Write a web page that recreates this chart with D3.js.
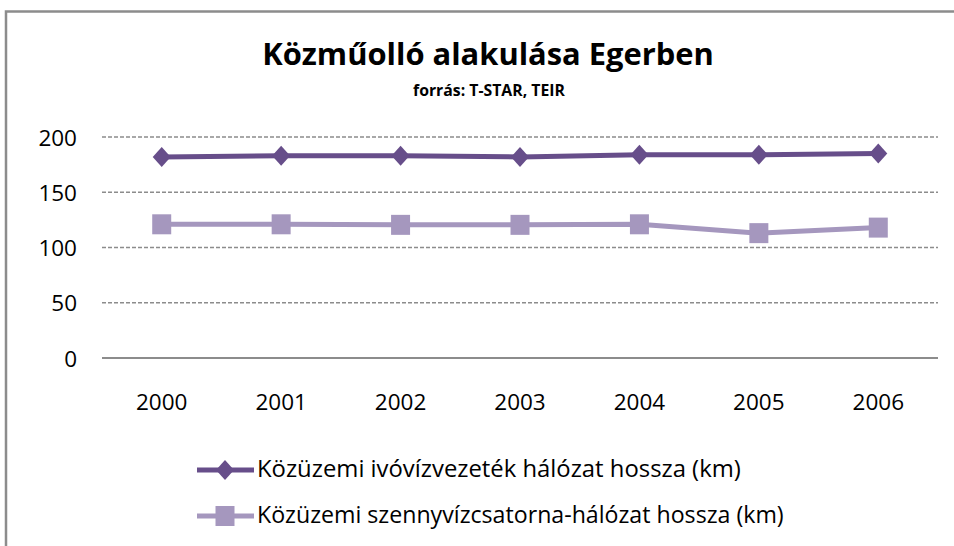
<!DOCTYPE html>
<html>
<head>
<meta charset="utf-8">
<script src="https://cdn.jsdelivr.net/npm/d3@7"></script>
<style>
  body { margin: 0; background: #fff; }
  svg text { font-family: "Open Sans", Lato, sans-serif; fill: #000; }
</style>
</head>
<body>
<svg id="chart" width="954" height="546"></svg>
<script>
// data
var years = ["2000", "2001", "2002", "2003", "2004", "2005", "2006"];
var ivoviz = [182, 183, 183, 182, 184, 184, 185];
var szenny = [121, 121, 120.5, 120.5, 121, 113, 118];
var seriesNames = ["Közüzemi ivóvízvezeték hálózat hossza (km)",
                   "Közüzemi szennyvízcsatorna-hálózat hossza (km)"];
var yTicks = [0, 50, 100, 150, 200];

var colors = ["#674e8a", "#a597be"];

var svg = d3.select("#chart");

// size a text so it spans roughly the width seen in the reference
function fit(sel, target) {
  sel.each(function() {
    var fs = parseFloat(d3.select(this).attr("font-size"));
    var w = this.getComputedTextLength();
    if (w > 0) d3.select(this).attr("font-size", (fs * target / w).toFixed(2));
  });
}

// outer frame (left + top visible)
svg.append("path")
  .attr("d", "M6,546 V11.5 H954")
  .attr("fill", "none")
  .attr("stroke", "#8c8c8c")
  .attr("stroke-width", 2.5);

// title
svg.append("text")
  .attr("x", 488).attr("y", 65)
  .attr("text-anchor", "middle")
  .attr("font-size", 30).attr("font-weight", "bold")
  .text("Közműolló alakulása Egerben")
  .call(fit, 452);
svg.append("text")
  .attr("x", 489).attr("y", 96)
  .attr("text-anchor", "middle")
  .attr("font-size", 14).attr("font-weight", "bold")
  .text("forrás: T-STAR, TEIR")
  .call(fit, 152);

var plotLeft = 102, plotRight = 938, plotTop = 137, plotBottom = 358;

var x = d3.scaleBand().domain(years).range([plotLeft, plotRight]);
var y = d3.scaleLinear().domain([0, 200]).range([plotBottom, plotTop]);

// grid
svg.append("g").selectAll("line")
  .data(yTicks.filter(function(d) { return d > 0; }))
  .enter().append("line")
  .attr("x1", plotLeft).attr("x2", plotRight)
  .attr("y1", function(d) { return y(d); })
  .attr("y2", function(d) { return y(d); })
  .attr("stroke", "#8c8c8c")
  .attr("stroke-width", 1.3)
  .attr("stroke-dasharray", "4,2");

// x axis line
svg.append("line")
  .attr("x1", plotLeft).attr("x2", plotRight)
  .attr("y1", y(0)).attr("y2", y(0))
  .attr("stroke", "#8c8c8c").attr("stroke-width", 2);

// y labels
var yAxis = svg.append("g")
  .attr("transform", "translate(" + (plotLeft - 25) + ",0)")
  .call(d3.axisLeft(y).tickValues(yTicks).tickSize(0).tickPadding(0));
yAxis.select(".domain").remove();
yAxis.selectAll("text")
  .attr("font-size", 22.5)
  .attr("dy", "0.36em")
  .style("font-family", "'Open Sans', Lato, sans-serif")
  .attr("fill", "#000");

// x labels
var xAxis = svg.append("g")
  .attr("transform", "translate(0," + 410 + ")")
  .call(d3.axisBottom(x).tickSize(0).tickPadding(0));
xAxis.select(".domain").remove();
xAxis.selectAll("text")
  .attr("font-size", 22.5)
  .attr("dy", 0)
  .style("font-family", "'Open Sans', Lato, sans-serif")
  .attr("fill", "#000");

var line = d3.line()
  .x(function(d, i) { return x(years[i]) + x.bandwidth() / 2; })
  .y(function(d) { return y(d); });

var diamond = "M0,-10 L9,0 L0,10 L-9,0 Z";
var square = "M-9.5,-10 H9.5 V10 H-9.5 Z";

function drawSeries(vals, color, shape) {
  svg.append("path")
    .datum(vals)
    .attr("fill", "none")
    .attr("stroke", color)
    .attr("stroke-width", 5)
    .attr("d", line);
  svg.append("g").selectAll("path")
    .data(vals)
    .enter().append("path")
    .attr("transform", function(d, i) {
      return "translate(" + (x(years[i]) + x.bandwidth() / 2) + "," + y(d) + ")";
    })
    .attr("d", shape)
    .attr("fill", color);
}

drawSeries(ivoviz, colors[0], diamond);
drawSeries(szenny, colors[1], square);

// legend
var legendY = [470, 516];
var legendW = [484, 527];
var shapes = [diamond, square];
seriesNames.forEach(function(name, i) {
  var g = svg.append("g").attr("transform", "translate(0," + legendY[i] + ")");
  g.append("line")
    .attr("x1", 197).attr("x2", 254)
    .attr("stroke", colors[i]).attr("stroke-width", 5);
  g.append("path")
    .attr("transform", "translate(225,0)")
    .attr("d", shapes[i])
    .attr("fill", colors[i]);
  g.append("text")
    .attr("x", 257).attr("y", 7)
    .attr("font-size", 20)
    .text(name)
    .call(fit, legendW[i]);
});
</script>
</body>
</html>
